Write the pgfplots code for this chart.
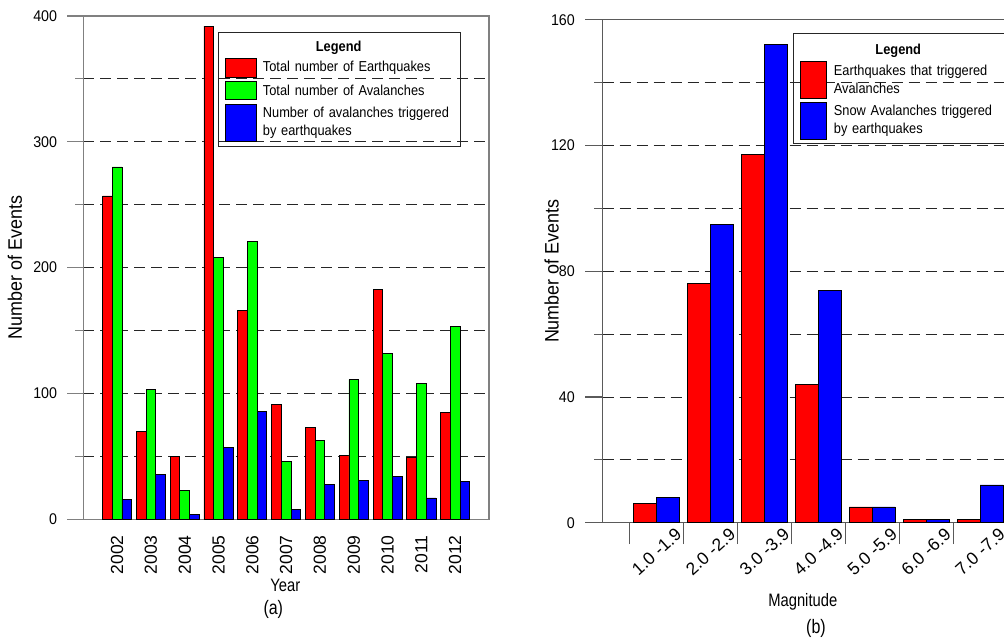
\documentclass[border=0pt]{standalone}
\usepackage{fontspec}
\setmainfont{Liberation Sans}
\newfontfamily\fcond{Liberation Sans}[FakeStretch=0.92]
\newfontfamily\fleg{Liberation Sans}[FakeStretch=0.89]
\newfontfamily\fcap{Liberation Sans}[FakeStretch=0.82]
\usepackage{pgfplots}
\pgfplotsset{compat=1.18}
\definecolor{cRed}{RGB}{255,0,0}
\definecolor{cGreen}{RGB}{0,255,0}
\definecolor{cBlue}{RGB}{0,0,255}
\definecolor{spineA}{RGB}{128,128,128}
\definecolor{spineB}{RGB}{90,90,90}

\pgfplotsset{
  common/.style={
    scale only axis, anchor=south west, clip=false,
    /pgf/number format/assume math mode=true,
    tick align=outside,
    ytick pos=left,
    ymajorgrids, yminorgrids,
    major grid style={draw=black!85, line width=0.9pt, dash pattern=on 11pt off 6pt},
    minor grid style={draw=black!85, line width=0.9pt, dash pattern=on 11pt off 6pt},
    yticklabel style={font=\fcond\fontsize{15.5}{18}\selectfont, inner sep=0pt, xshift=-10pt},
    ylabel style={font=\fcond\fontsize{19.5}{22}\selectfont, anchor=center},
    xlabel style={font=\fcap\fontsize{18}{21}\selectfont, anchor=base},
    legend cell align=left,
  },
}

\begin{document}
\begin{tikzpicture}
% ---------------- (a) ----------------
\begin{axis}[common,
  at={(83.3pt,118.7pt)}, width=405.7pt, height=503.3pt,
  xmin=-1, xmax=11, ymin=0, ymax=400,
  axis line style={draw=spineA, line width=1.1pt},
  ytick={0,100,200,300,400}, minor ytick={50,150,250,350},
  major tick length=16pt, minor tick length=8pt,
  ytick style={draw=spineA, line width=1.1pt},
  xtick={0,...,10},
  xticklabels={2002,2003,2004,2005,2006,2007,2008,2009,2010,2011,2012},
  xtick style={draw=none},
  xticklabel style={rotate=90, anchor=east, inner sep=0pt, font=\fontsize{17.5}{20}\selectfont},
  ylabel={Number of Events},
  ylabel style={at={(rel axis cs:-0.1683,0.5)}},
  xlabel={Year},
  xlabel style={at={(rel axis cs:0.498,-0.1439)}},
  legend style={at={(0.3328,0.9688)}, anchor=north west, draw=black!85, line width=0.8pt, fill=none,
    inner xsep=6.7pt, inner ysep=4pt, row sep=3.5pt, column sep=6.4pt,
    font={\fleg\fontsize{14.4}{18.5}\selectfont\hyphenpenalty=10000},
    nodes={inner sep=0pt, text depth=, text width=190.6pt, align=left},
    cells={anchor=west}},
]
\addlegendimage{legend image code/.code={\path[draw=none,fill=none] (0pt,0pt) rectangle (0pt,12pt);}}
\addlegendentry{\hspace*{53pt}\textbf{Legend}}
\addplot[ybar, bar width=0.287, bar shift=-0.287, fill=cRed, draw=black, line width=0.8pt,
  legend image code/.code={\draw[fill=cRed, draw=black, line width=0.8pt] (0pt,-9.2pt) rectangle (30.3pt,9.2pt);}]
  coordinates {(0,257) (1,70) (2,50) (3,392) (4,166) (5,91) (6,73) (7,51) (8,183) (9,49) (10,85)};
\addlegendentry{Total number of Earthquakes}
\addplot[ybar, bar width=0.287, bar shift=0, fill=cGreen, draw=black, line width=0.8pt,
  legend image code/.code={\draw[fill=cGreen, draw=black, line width=0.8pt] (0pt,-9.2pt) rectangle (30.3pt,9.2pt);}]
  coordinates {(0,280) (1,103) (2,23) (3,208) (4,221) (5,46) (6,63) (7,111) (8,132) (9,108) (10,153)};
\addlegendentry{Total number of Avalanches}
\addplot[ybar, bar width=0.287, bar shift=0.287, fill=cBlue, draw=black, line width=0.8pt,
  legend image code/.code={\draw[fill=cBlue, draw=black, line width=0.8pt] (0pt,-18.7pt) rectangle (30.3pt,18.7pt);}]
  coordinates {(0,16) (1,36) (2,4) (3,57) (4,86) (5,8) (6,28) (7,31) (8,34) (9,17) (10,30)};
\addlegendentry{Number of avalanches triggered\\by earthquakes}
\end{axis}

% ---------------- (b) ----------------
\begin{axis}[common,
  at={(602.7pt,115.3pt)}, width=431.2pt, height=503pt,
  xmin=0, xmax=8, ymin=0, ymax=160,
  axis line style={draw=spineB, line width=1.1pt},
  ytick={0,40,80,120,160}, minor ytick={20,60,100,140},
  major tick length=17.7pt, minor tick length=8.7pt,
  ytick style={draw=spineB, line width=1.1pt},
  xtick=\empty,
  ylabel={Number of Events},
  ylabel style={at={(rel axis cs:-0.1183,0.5)}},
  xlabel={Magnitude},
  xlabel style={at={(rel axis cs:0.464,-0.1656)}},
  legend style={at={(0.4406,0.9736)}, anchor=north west, draw=black!85, line width=0.8pt, fill=none,
    inner xsep=6.6pt, inner ysep=4pt, row sep=3pt, column sep=6.7pt,
    font={\fleg\fontsize{14.4}{18.3}\selectfont\hyphenpenalty=10000},
    nodes={inner sep=0pt, text depth=, text width=164pt, align=left},
    cells={anchor=west}},
]
\addlegendimage{legend image code/.code={\path[draw=none,fill=none] (0pt,0pt) rectangle (0pt,13.5pt);}}
\addlegendentry{\hspace*{41.6pt}\textbf{Legend}}
\addplot[ybar, bar width=0.4267, bar shift=-0.2134, fill=cRed, draw=black, line width=0.8pt,
  legend image code/.code={\draw[fill=cRed, draw=black, line width=0.8pt] (0pt,-18.6pt) rectangle (26.7pt,18.6pt);}]
  coordinates {(1,6) (2,76) (3,117) (4,44) (5,5) (6,1) (7,1)};
\addlegendentry{Earthquakes that triggered\\Avalanches}
\addplot[ybar, bar width=0.4267, bar shift=0.2134, fill=cBlue, draw=black, line width=0.8pt,
  legend image code/.code={\draw[fill=cBlue, draw=black, line width=0.8pt] (0pt,-18.6pt) rectangle (26.7pt,18.6pt);}]
  coordinates {(1,8) (2,95) (3,152) (4,74) (5,5) (6,1) (7,12)};
\addlegendentry{Snow Avalanches triggered\\by earthquakes}
\end{axis}

% x ticks of (b), drawn on an identical overlay axis
\begin{axis}[
  scale only axis, anchor=south west, clip=false,
  at={(602.7pt,115.3pt)}, width=431.2pt, height=503pt,
  xmin=0, xmax=8, ymin=0, ymax=160,
  axis line style={draw=none},
  ytick=\empty,
  tick align=outside, xtick pos=left,
  major tick length=21.3pt,
  xtick={0.5,1.5,2.5,3.5,4.5,5.5,6.5,7.5},
  xticklabels={{},1.0 -1.9,2.0 -2.9,3.0 -3.9,4.0 -4.9,5.0 -5.9,6.0 -6.9,7.0 -7.9},
  xtick style={draw=spineB, line width=1.1pt},
  xticklabel style={xshift=-9pt, yshift=17pt, rotate=42, anchor=north east, inner sep=0pt, font=\fontsize{17.5}{20}\selectfont},
]
\end{axis}

\node[anchor=base, font=\fcap\fontsize{19.5}{22}\selectfont] at (273.3pt,24pt) {(a)};
\node[anchor=base, font=\fcap\fontsize{19.5}{22}\selectfont] at (816pt,4.7pt) {(b)};

\pgfresetboundingbox
\useasboundingbox (0pt,0pt) rectangle (1004pt,638pt);
\end{tikzpicture}
\end{document}
